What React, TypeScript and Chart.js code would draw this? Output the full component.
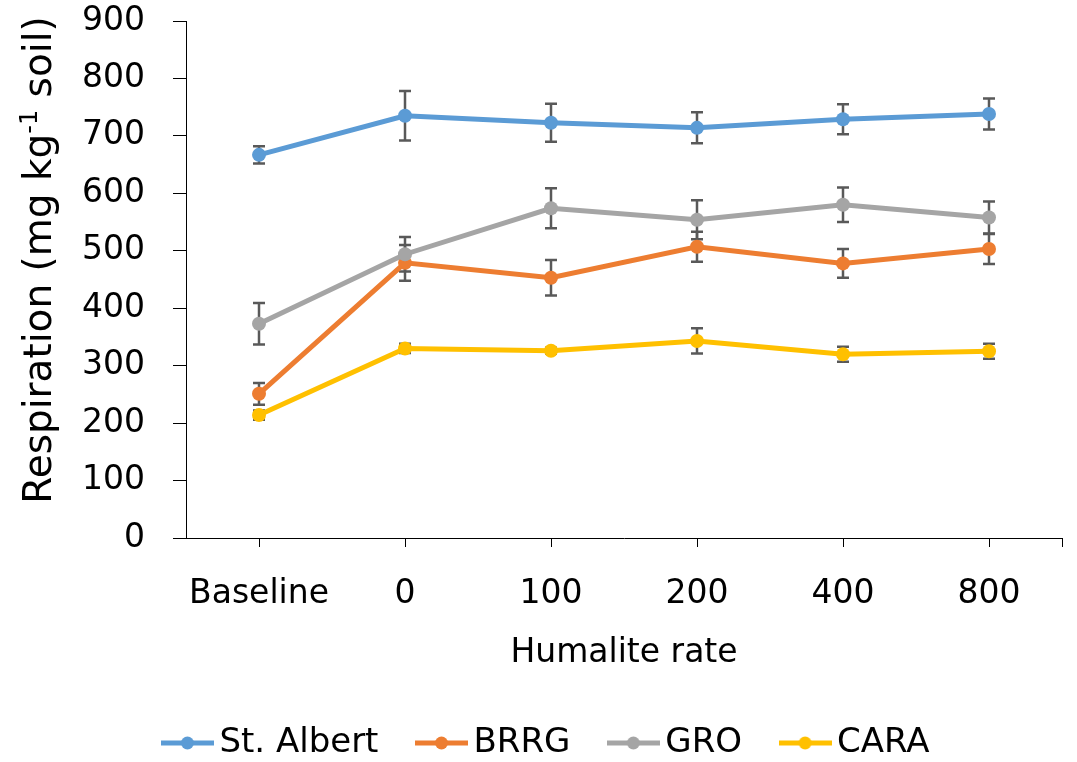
import React, { useEffect, useRef } from 'react';
import { Chart, registerables } from 'chart.js';

Chart.register(...registerables);

const categories = ['Baseline', '0', '100', '200', '400', '800'];
const seriesNames = ['St. Albert', 'BRRG', 'GRO', 'CARA'];
const stAlbert = [667, 735, 723, 714, 729, 738];
const stAlbertErr = [15, 43, 33, 27, 26, 27];
const brrg = [251, 479, 453, 507, 478, 503];
const brrgErr = [19, 31, 31, 26, 25, 26];
const gro = [373, 494, 574, 554, 580, 558];
const groErr = [36, 30, 35, 34, 30, 28];
const cara = [214, 330, 326, 343, 320, 325];
const caraErr = [8, 8, 5, 22, 13, 13];
const yMin = 0;
const yMax = 900;
const yStep = 100;
const yTitleParts = ['Respiration (mg kg', '-1', ' soil)'];
const xTitle = 'Humalite rate';

const seriesValues = [stAlbert, brrg, gro, cara];
const seriesErrors = [stAlbertErr, brrgErr, groErr, caraErr];
const colors = ['#5B9BD5', '#ED7D31', '#A5A5A5', '#FFC000'];
const FONT = "'DejaVu Sans', sans-serif";

function makeMarker(color: string): HTMLCanvasElement {
  const c = document.createElement('canvas');
  c.width = 53;
  c.height = 16;
  const g = c.getContext('2d')!;
  g.strokeStyle = color;
  g.lineWidth = 5;
  g.beginPath();
  g.moveTo(0, 8);
  g.lineTo(53, 8);
  g.stroke();
  g.fillStyle = color;
  g.beginPath();
  g.arc(26.5, 8, 6.5, 0, Math.PI * 2);
  g.fill();
  return c;
}

const errorBarPlugin = {
  id: 'errorBars',
  afterLayout(chart: any) {
    if (chart.legend) {
      chart.legend.left += 20;
      chart.legend.right += 20;
    }
  },
  beforeDatasetsDraw(chart: any) {
    const { ctx } = chart;
    const y = chart.scales.y;
    ctx.save();
    ctx.strokeStyle = '#595959';
    ctx.lineWidth = 2.5;
    chart.data.datasets.forEach((ds: any, i: number) => {
      const meta = chart.getDatasetMeta(i);
      const errs = seriesErrors[i];
      meta.data.forEach((pt: any, j: number) => {
        const v = ds.data[j];
        const e = errs[j];
        const x = pt.x;
        const yt = y.getPixelForValue(v + e);
        const yb = y.getPixelForValue(v - e);
        ctx.beginPath();
        ctx.moveTo(x, yt);
        ctx.lineTo(x, yb);
        ctx.moveTo(x - 6, yt);
        ctx.lineTo(x + 6, yt);
        ctx.moveTo(x - 6, yb);
        ctx.lineTo(x + 6, yb);
        ctx.stroke();
      });
    });
    ctx.restore();
  },
  afterDraw(chart: any) {
    const { ctx, chartArea } = chart;
    ctx.save();
    ctx.strokeStyle = '#000';
    ctx.lineWidth = 1;
    const x = Math.round(chartArea.right) + 0.5;
    ctx.beginPath();
    ctx.moveTo(x, chartArea.bottom);
    ctx.lineTo(x, chartArea.bottom + 9);
    ctx.stroke();
    ctx.restore();

    // y-axis title with superscript
    const mainFont = `39px ${FONT}`;
    const supFont = `24px ${FONT}`;
    ctx.save();
    ctx.fillStyle = '#000';
    ctx.textBaseline = 'alphabetic';
    ctx.textAlign = 'left';
    ctx.font = mainFont;
    const w0 = ctx.measureText(yTitleParts[0]).width;
    const w2 = ctx.measureText(yTitleParts[2]).width;
    ctx.font = supFont;
    const w1 = ctx.measureText(yTitleParts[1]).width;
    const total = w0 + w1 + w2;
    ctx.translate(51, 260);
    ctx.rotate(-Math.PI / 2);
    let cx = -total / 2;
    ctx.font = mainFont;
    ctx.fillText(yTitleParts[0], cx, 0);
    cx += w0;
    ctx.font = supFont;
    ctx.fillText(yTitleParts[1], cx, -14);
    cx += w1;
    ctx.font = mainFont;
    ctx.fillText(yTitleParts[2], cx, 0);
    ctx.restore();
  },
};

export default function App() {
  const ref = useRef<HTMLCanvasElement | null>(null);

  useEffect(() => {
    if (!ref.current) return;
    const markers = colors.map(makeMarker);
    const chart = new Chart(ref.current, {
      type: 'line',
      data: {
        labels: categories,
        datasets: seriesNames.map((name, i) => ({
          label: name,
          data: seriesValues[i],
          borderColor: colors[i],
          backgroundColor: colors[i],
          borderWidth: 5,
          pointRadius: 7,
          pointHoverRadius: 7,
          pointBackgroundColor: colors[i],
          pointBorderColor: colors[i],
          pointBorderWidth: 0,
          tension: 0,
          fill: false,
          order: -i,
        })),
      },
      options: {
        animation: false,
        responsive: false,
        maintainAspectRatio: false,
        layout: { padding: { left: 0, right: 15, top: 21, bottom: -8 } },
        scales: {
          x: {
            type: 'category',
            offset: true,
            afterFit(scale: any) {
              scale.height = 140;
            },
            grid: {
              display: true,
              drawOnChartArea: false,
              drawTicks: true,
              tickLength: 9,
              color: '#000',
              offset: false,
            },
            border: { display: true, color: '#000', width: 1 },
            ticks: {
              color: '#000',
              font: { family: FONT, size: 33 },
              padding: 28,
              maxRotation: 0,
              autoSkip: false,
            },
            title: {
              display: true,
              text: xTitle,
              color: '#000',
              font: { family: FONT, size: 33 },
              padding: { top: 0, bottom: 5 },
            },
          },
          y: {
            min: yMin,
            max: yMax,
            afterFit(scale: any) {
              scale.width = 186;
              scale.paddingTop = 10;
              scale.paddingBottom = 10;
            },
            grid: {
              display: true,
              drawOnChartArea: false,
              drawTicks: true,
              tickLength: 13,
              color: '#000',
            },
            border: { display: true, color: '#000', width: 1 },
            ticks: {
              stepSize: yStep,
              color: '#000',
              font: { family: FONT, size: 33 },
              padding: 28,
            },
            title: { display: false },
          },
        },
        plugins: {
          legend: {
            display: true,
            position: 'bottom',
            labels: {
              color: '#000',
              font: { family: FONT, size: 34 },
              usePointStyle: true,
              pointStyleWidth: 30,
              padding: 48,
              sort: (a: any, b: any) => a.datasetIndex - b.datasetIndex,
              generateLabels(chart: any) {
                const items = (Chart.defaults.plugins.legend.labels as any).generateLabels(chart);
                return items.map((it: any, i: number) => ({
                  ...it,
                  pointStyle: markers[it.datasetIndex ?? i],
                }));
              },
            },
          },
          tooltip: { enabled: false },
        },
      } as any,
      plugins: [errorBarPlugin],
    });
    return () => chart.destroy();
  }, []);

  return (
    <div style={{ position: 'fixed', left: 0, top: 0, width: 1077, height: 762, background: '#fff' }}>
      <canvas ref={ref} width={1077} height={762} />
    </div>
  );
}
